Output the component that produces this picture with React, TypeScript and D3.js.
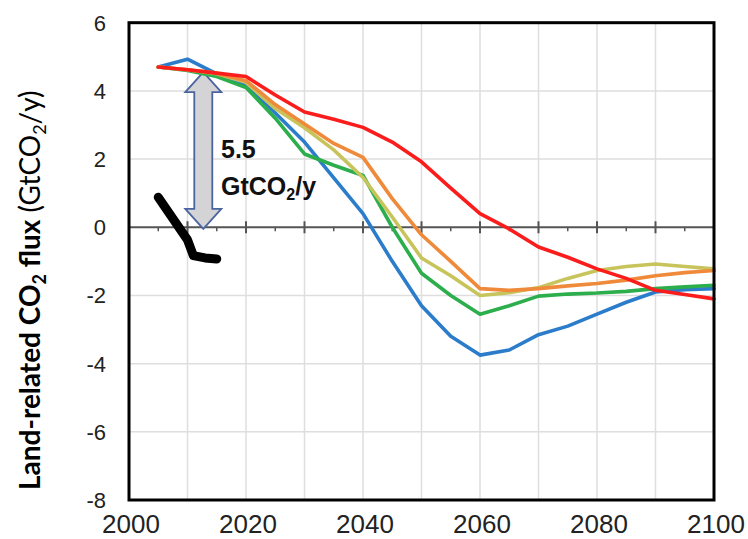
import React from "react";
import * as d3 from "d3";

// ---- data ----
const years = [2005, 2010, 2015, 2020, 2025, 2030, 2035, 2040, 2045, 2050, 2055, 2060, 2065, 2070, 2075, 2080, 2085, 2090, 2095, 2100];
const blueSeries = [4.7, 4.93, 4.5, 4.18, 3.35, 2.5, 1.45, 0.4, -1.0, -2.3, -3.2, -3.75, -3.6, -3.15, -2.9, -2.55, -2.2, -1.9, -1.83, -1.8];
const greenSeries = [4.7, 4.6, 4.42, 4.1, 3.2, 2.15, 1.82, 1.52, 0.0, -1.35, -2.0, -2.55, -2.3, -2.02, -1.96, -1.93, -1.88, -1.8, -1.75, -1.7];
const yellowSeries = [4.7, 4.62, 4.5, 4.25, 3.48, 2.92, 2.27, 1.46, 0.3, -0.9, -1.42, -2.0, -1.92, -1.77, -1.5, -1.27, -1.15, -1.08, -1.15, -1.22];
const orangeSeries = [4.7, 4.62, 4.52, 4.3, 3.6, 3.03, 2.46, 2.05, 0.84, -0.22, -1.0, -1.8, -1.85, -1.8, -1.72, -1.65, -1.55, -1.42, -1.33, -1.27];
const redSeries = [4.7, 4.62, 4.52, 4.42, 3.88, 3.38, 3.17, 2.93, 2.5, 1.92, 1.15, 0.4, -0.05, -0.58, -0.88, -1.22, -1.5, -1.85, -1.97, -2.1];

const histYears = [2005, 2010, 2011, 2013, 2015];
const histValues = [0.88, -0.37, -0.83, -0.9, -0.93];

const yTicks = [6, 4, 2, 0, -2, -4, -6, -8];
const xLabelTicks = [2000, 2020, 2040, 2060, 2080, 2100];
const xGridTicks = [2010, 2020, 2030, 2040, 2050, 2060, 2070, 2080, 2090];
const zeroMajorTicks = [2010, 2020, 2030, 2040, 2050, 2060, 2070, 2080, 2090, 2100];
const zeroMinorTicks = [2005, 2015, 2025, 2035, 2045, 2055, 2065, 2075, 2085, 2095];

// arrow marking the 5.5 GtCO2/y gap
const arrowYear = 2012.7;
const arrowTop = 4.55;
const arrowBottom = -0.05;

const series = [
  { name: "blue", values: blueSeries, color: "#2b7cca" },
  { name: "green", values: greenSeries, color: "#2bae4b" },
  { name: "yellow", values: yellowSeries, color: "#c8c45c" },
  { name: "orange", values: orangeSeries, color: "#ef8a3b" },
  { name: "red", values: redSeries, color: "#fb1c1c" },
];

export default function App() {
  const width = 748;
  const height = 539;
  const margin = { top: 22.7, right: 34, bottom: 39, left: 129 };

  const x = d3.scaleLinear().domain([2000, 2100]).range([margin.left, width - margin.right]);
  const y = d3.scaleLinear().domain([-8, 6]).range([height - margin.bottom, margin.top]);

  const line = d3.line<number>()
    .x((_, i) => x(years[i]))
    .y(d => y(d));

  const histLine = d3.line<number>()
    .x((_, i) => x(histYears[i]))
    .y(d => y(d));

  // double-headed arrow polygon
  const ax = x(arrowYear);
  const at = y(arrowTop);
  const ab = y(arrowBottom);
  const headW = 18, shaftW = 9, headL = 20;
  const arrowPath = [
    [ax, at], [ax + headW, at + headL], [ax + shaftW, at + headL],
    [ax + shaftW, ab - headL], [ax + headW, ab - headL], [ax, ab],
    [ax - headW, ab - headL], [ax - shaftW, ab - headL],
    [ax - shaftW, at + headL], [ax - headW, at + headL],
  ].map((p, i) => `${i ? "L" : "M"}${p[0]},${p[1]}`).join("") + "Z";

  const tickFont = "'Liberation Sans', Arial, Helvetica, sans-serif";

  return (
    <div style={{ position: "fixed", left: 0, top: 0 }}>
      <svg width={width} height={height} style={{ display: "block", background: "#fff" }}>
        {/* grid */}
        {yTicks.filter(t => t !== 6 && t !== -8 && t !== 0).map(t => (
          <line key={"gy" + t} x1={x(2000)} x2={x(2100)} y1={y(t)} y2={y(t)} stroke="#dedede" strokeWidth={1.5} />
        ))}
        {xGridTicks.map(t => (
          <line key={"gx" + t} x1={x(t)} x2={x(t)} y1={y(6)} y2={y(-8)} stroke="#dedede" strokeWidth={1.5} />
        ))}

        {/* zero line with ticks */}
        <line x1={x(2000)} x2={x(2100)} y1={y(0)} y2={y(0)} stroke="#555" strokeWidth={2} />
        {zeroMajorTicks.map(t => (
          <line key={"zm" + t} x1={x(t)} x2={x(t)} y1={y(0) - 6} y2={y(0) + 6} stroke="#555" strokeWidth={2} />
        ))}
        {zeroMinorTicks.map(t => (
          <line key={"zn" + t} x1={x(t)} x2={x(t)} y1={y(0)} y2={y(0) + 4} stroke="#555" strokeWidth={1.5} />
        ))}

        {/* arrow */}
        <path d={arrowPath} fill="#d4d4d6" stroke="#4a64a0" strokeWidth={1.8} strokeLinejoin="miter" />

        {/* historical flux */}
        <path d={histLine(histValues) || ""} fill="none" stroke="#000" strokeWidth={9} strokeLinecap="round" strokeLinejoin="round" />

        {/* scenarios */}
        {series.map(s => (
          <path key={s.name} d={line(s.values) || ""} fill="none" stroke={s.color} strokeWidth={3.6} strokeLinejoin="round" strokeLinecap="round" />
        ))}

        {/* frame */}
        <rect x={x(2000)} y={y(6)} width={x(2100) - x(2000)} height={y(-8) - y(6)} fill="none" stroke="#000" strokeWidth={3} />

        {/* y tick labels */}
        {yTicks.map(t => (
          <text key={"yl" + t} x={106} y={y(t)} dy="0.36em" textAnchor="end" fontSize={22} fontFamily={tickFont} fill="#222">
            {t}
          </text>
        ))}

        {/* x tick labels */}
        {xLabelTicks.map(t => (
          <text key={"xl" + t} x={x(t) + 2} y={533} textAnchor="middle" fontSize={26} fontFamily={tickFont} fill="#222">
            {t}
          </text>
        ))}

        {/* annotation */}
        <text x={221} y={158} fontSize={25} fontWeight="bold" fontFamily={tickFont} fill="#111">5.5</text>
        <text x={221} y={195} fontSize={25} fontWeight="bold" fontFamily={tickFont} fill="#111">
          GtCO<tspan fontSize={16} dy={5}>2</tspan><tspan dy={-5}>/y</tspan>
        </text>

        {/* y axis title */}
        <text transform="translate(40,490) rotate(-90)" fontSize={28} fontFamily="Lato, 'Open Sans', sans-serif" fill="#000">
          <tspan fontWeight="bold">Land-related CO</tspan>
          <tspan fontWeight="bold" fontSize={18} dy={6}>2</tspan>
          <tspan fontWeight="bold" dy={-6}> flux</tspan>
          <tspan> (GtCO</tspan>
          <tspan fontSize={18} dy={6}>2</tspan>
          <tspan dy={-6}>/y)</tspan>
        </text>
      </svg>
    </div>
  );
}
